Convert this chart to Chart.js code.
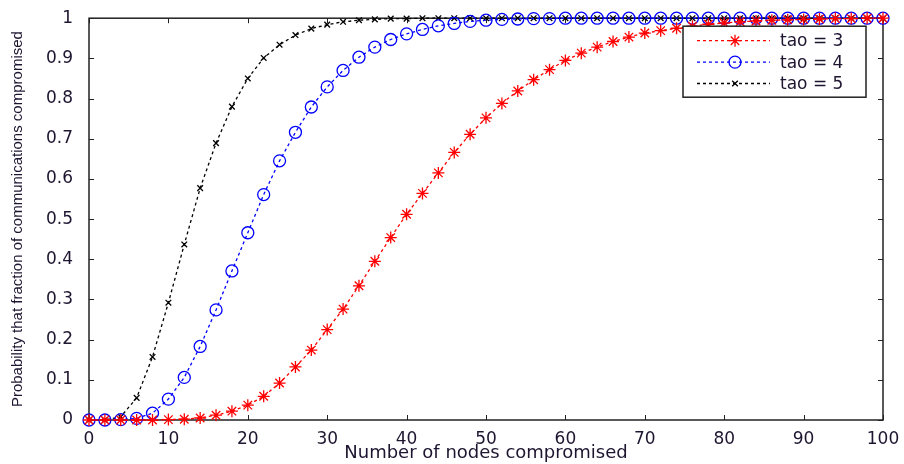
<!DOCTYPE html>
<html>
<head>
<meta charset="utf-8">
<title>Communications compromised</title>
<script src="https://cdn.jsdelivr.net/npm/chart.js@4.4.1/dist/chart.umd.min.js"></script>
<style>
  html, body { margin: 0; padding: 0; background: #fff; }
  #wrap { width: 904px; height: 464px; }
</style>
</head>
<body>
<div id="wrap"><canvas id="myChart"></canvas></div>
<script>
// x: number of nodes compromised
const nodes = [0, 2, 4, 6, 8, 10, 12, 14, 16, 18, 20, 22, 24, 26, 28, 30, 32, 34, 36, 38, 40,
  42, 44, 46, 48, 50, 52, 54, 56, 58, 60, 62, 64, 66, 68, 70, 72, 74, 76, 78, 80,
  82, 84, 86, 88, 90, 92, 94, 96, 98, 100];

const tao3 = [0, 0, 0, 0, 0, 0.001, 0.002, 0.005, 0.012, 0.022, 0.037, 0.059, 0.092, 0.132, 0.174, 0.225,
  0.276, 0.334, 0.395, 0.454, 0.512, 0.564, 0.615, 0.666, 0.711, 0.752, 0.788, 0.819, 0.847, 0.872,
  0.895, 0.913, 0.928, 0.942, 0.953, 0.963, 0.969, 0.975, 0.980, 0.985, 0.988, 0.991, 0.993, 0.995,
  0.996, 0.997, 0.998, 0.999, 0.999, 1, 1];

const tao4 = [0, 0, 0.001, 0.004, 0.017, 0.052, 0.106, 0.183, 0.274, 0.371, 0.466, 0.561, 0.645, 0.716,
  0.779, 0.829, 0.870, 0.903, 0.928, 0.947, 0.961, 0.972, 0.981, 0.987, 0.992, 0.995, 0.997, 0.998,
  0.999, 0.999, 1, 1, 1, 1, 1, 1, 1, 1, 1, 1, 1, 1, 1, 1, 1, 1, 1, 1, 1, 1, 1];

const tao5 = [0, 0, 0.008, 0.055, 0.157, 0.292, 0.437, 0.577, 0.689, 0.780, 0.850, 0.901, 0.934, 0.958,
  0.974, 0.984, 0.991, 0.995, 0.997, 0.999, 0.999, 1, 1, 1, 1, 1, 1, 1, 1, 1, 1, 1, 1, 1, 1, 1, 1,
  1, 1, 1, 1, 1, 1, 1, 1, 1, 1, 1, 1, 1, 1];

const seriesLabels = ['tao = 3', 'tao = 4', 'tao = 5'];

const textColor = '#1e1530';
const fontFamily = '"DejaVu Sans", Arial, sans-serif';

function points(values) {
  return nodes.map((n, i) => ({x: n, y: values[i]}));
}

function series(label, values, color, style, radius) {
  return {
    label,
    data: points(values),
    borderColor: color,
    borderWidth: 1.3,
    borderDash: [3, 3],
    pointStyle: style,
    pointRadius: radius,
    pointHoverRadius: radius,
    pointBorderWidth: 1.3,
    pointBorderColor: color,
    pointBackgroundColor: 'rgba(0,0,0,0)',
    tension: 0,
    clip: false
  };
}

// matlab style box with inward tick marks on all four sides
const boxAxes = {
  id: 'boxAxes',
  beforeDatasetsDraw(chart) {
    const {ctx, chartArea: a, scales: {x, y}} = chart;
    ctx.save();
    ctx.strokeStyle = '#222';
    ctx.lineWidth = 1;
    ctx.beginPath();
    x.ticks.forEach(t => {
      const px = Math.round(x.getPixelForValue(t.value)) + 0.5;
      ctx.moveTo(px, a.bottom); ctx.lineTo(px, a.bottom - 5);
      ctx.moveTo(px, a.top); ctx.lineTo(px, a.top + 5);
    });
    y.ticks.forEach(t => {
      const py = Math.round(y.getPixelForValue(t.value)) + 0.5;
      ctx.moveTo(a.left, py); ctx.lineTo(a.left + 5, py);
      ctx.moveTo(a.right, py); ctx.lineTo(a.right - 5, py);
    });
    ctx.stroke();
    ctx.lineWidth = 1.5;
    ctx.strokeRect(a.left, a.top, a.width, a.height);
    ctx.restore();
  }
};

// legend with dashed line sample and marker, top right inside the axes
const matlabLegend = {
  id: 'matlabLegend',
  afterDraw(chart) {
    const {ctx, chartArea: a} = chart;
    const w = 183, h = 71;
    const left = a.right - 17 - w, top = a.top + 8;
    ctx.save();
    ctx.fillStyle = '#fff';
    ctx.fillRect(left, top, w, h);
    ctx.strokeStyle = '#222';
    ctx.lineWidth = 1.5;
    ctx.strokeRect(left, top, w, h);
    chart.data.datasets.forEach((ds, i) => {
      const cy = top + 14.5 + i * 21.4;
      ctx.strokeStyle = ds.borderColor;
      ctx.lineWidth = ds.borderWidth;
      ctx.setLineDash(ds.borderDash);
      ctx.beginPath();
      ctx.moveTo(left + 14, cy);
      ctx.lineTo(left + 87, cy);
      ctx.stroke();
      ctx.setLineDash([]);
      ctx.fillStyle = 'rgba(0,0,0,0)';
      ctx.lineWidth = ds.pointBorderWidth;
      Chart.helpers.drawPoint(ctx, {
        pointStyle: ds.pointStyle, radius: ds.pointRadius, borderWidth: ds.pointBorderWidth, rotation: 0
      }, left + 52, cy);
      ctx.fillStyle = textColor;
      ctx.font = '17px ' + fontFamily;
      ctx.textBaseline = 'middle';
      ctx.textAlign = 'left';
      ctx.fillText(ds.label, left + 97, cy + 1);
    });
    ctx.restore();
  }
};

const data = {
  datasets: [
    series(seriesLabels[0], tao3, '#ff0000', 'star', 6),
    series(seriesLabels[1], tao4, '#0000ff', 'circle', 6),
    series(seriesLabels[2], tao5, '#000000', 'crossRot', 4)
  ]
};

const config = {
  type: 'line',
  data,
  options: {
    responsive: true,
    maintainAspectRatio: false,
    animation: false,
    events: [],
    layout: {padding: {top: 16, right: 21, left: 0, bottom: 0}},
    plugins: {
      legend: {display: false},
      tooltip: {enabled: false}
    },
    scales: {
      x: {
        type: 'linear',
        min: 0,
        max: 100,
        ticks: {stepSize: 10, padding: 1, color: textColor, font: {family: fontFamily, size: 17}, maxRotation: 0},
        grid: {display: false},
        border: {display: false},
        title: {
          display: true,
          text: 'Number of nodes compromised',
          color: textColor,
          font: {family: fontFamily, size: 18},
          padding: {top: 0, bottom: 0}
        },
        afterFit(scale) { scale.height = 44; }
      },
      y: {
        min: 0,
        max: 1,
        ticks: {
          stepSize: 0.1,
          padding: 8,
          color: textColor,
          font: {family: fontFamily, size: 17},
          callback: value => String(Number(value.toFixed(1)))
        },
        grid: {display: false},
        border: {display: false},
        title: {
          display: true,
          text: 'Probability that fraction of communications compromised',
          color: textColor,
          font: {family: '"Liberation Sans", Arial, sans-serif', size: 15},
          padding: {top: 9, bottom: 0}
        },
        afterFit(scale) { scale.width = 89; }
      }
    }
  },
  plugins: [boxAxes, matlabLegend]
};

const myChart = new Chart(document.getElementById('myChart'), config);
</script>
</body>
</html>
